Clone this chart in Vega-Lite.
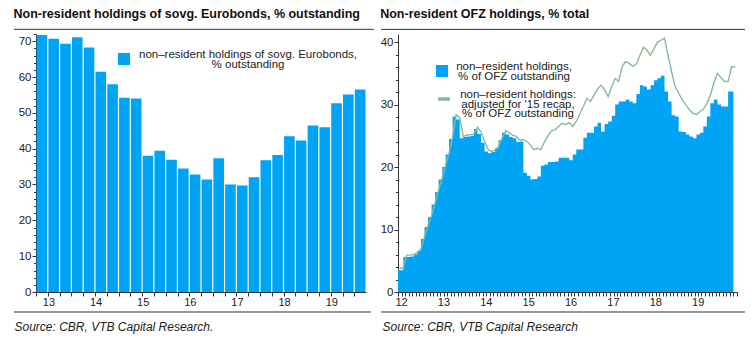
{
  "$schema": "https://vega.github.io/schema/vega-lite/v6.json",
  "background": "white",
  "padding": {"left": 13, "top": 8, "right": 4, "bottom": 4},
  "spacing": 5,
  "datasets": {
    "euro": [
      {"q": "2013Q1", "v": 71.7}, {"q": "2013Q2", "v": 70.7}, {"q": "2013Q3", "v": 69.3}, {"q": "2013Q4", "v": 71.1},
      {"q": "2014Q1", "v": 68.2}, {"q": "2014Q2", "v": 61.5}, {"q": "2014Q3", "v": 58.0}, {"q": "2014Q4", "v": 54.2},
      {"q": "2015Q1", "v": 54.0}, {"q": "2015Q2", "v": 38.0}, {"q": "2015Q3", "v": 39.4}, {"q": "2015Q4", "v": 36.9},
      {"q": "2016Q1", "v": 34.5}, {"q": "2016Q2", "v": 32.8}, {"q": "2016Q3", "v": 31.4}, {"q": "2016Q4", "v": 37.3},
      {"q": "2017Q1", "v": 30.0}, {"q": "2017Q2", "v": 29.7}, {"q": "2017Q3", "v": 32.0}, {"q": "2017Q4", "v": 36.8},
      {"q": "2018Q1", "v": 38.2}, {"q": "2018Q2", "v": 43.5}, {"q": "2018Q3", "v": 42.3}, {"q": "2018Q4", "v": 46.5},
      {"q": "2019Q1", "v": 46.0}, {"q": "2019Q2", "v": 52.7}, {"q": "2019Q3", "v": 55.1}, {"q": "2019Q4", "v": 56.5}
    ],
    "ofz": [
      {"m": "2012-01-01", "nr": 3.5, "adj": 3.8}, {"m": "2012-02-01", "nr": 3.5, "adj": 3.8}, {"m": "2012-03-01", "nr": 5.6, "adj": 5.9},
      {"m": "2012-04-01", "nr": 5.6, "adj": 5.9}, {"m": "2012-05-01", "nr": 5.7, "adj": 6.0}, {"m": "2012-06-01", "nr": 6.0, "adj": 6.3},
      {"m": "2012-07-01", "nr": 6.6, "adj": 6.9}, {"m": "2012-08-01", "nr": 8.5, "adj": 8.8}, {"m": "2012-09-01", "nr": 10.4, "adj": 10.7},
      {"m": "2012-10-01", "nr": 12.0, "adj": 12.3}, {"m": "2012-11-01", "nr": 14.0, "adj": 14.3}, {"m": "2012-12-01", "nr": 16.0, "adj": 16.3},
      {"m": "2013-01-01", "nr": 18.0, "adj": 18.3}, {"m": "2013-02-01", "nr": 20.0, "adj": 20.3}, {"m": "2013-03-01", "nr": 22.0, "adj": 22.3},
      {"m": "2013-04-01", "nr": 24.5, "adj": 24.8}, {"m": "2013-05-01", "nr": 28.1, "adj": 28.4}, {"m": "2013-06-01", "nr": 27.6, "adj": 27.9},
      {"m": "2013-07-01", "nr": 24.6, "adj": 24.9}, {"m": "2013-08-01", "nr": 24.8, "adj": 25.1}, {"m": "2013-09-01", "nr": 24.9, "adj": 25.2},
      {"m": "2013-10-01", "nr": 25.0, "adj": 25.3}, {"m": "2013-11-01", "nr": 26.1, "adj": 26.4}, {"m": "2013-12-01", "nr": 25.3, "adj": 25.6},
      {"m": "2014-01-01", "nr": 23.9, "adj": 24.2}, {"m": "2014-02-01", "nr": 22.5, "adj": 22.8}, {"m": "2014-03-01", "nr": 22.2, "adj": 22.5},
      {"m": "2014-04-01", "nr": 22.4, "adj": 22.7}, {"m": "2014-05-01", "nr": 23.0, "adj": 23.3}, {"m": "2014-06-01", "nr": 24.3, "adj": 24.6},
      {"m": "2014-07-01", "nr": 25.5, "adj": 25.8}, {"m": "2014-08-01", "nr": 25.2, "adj": 25.5}, {"m": "2014-09-01", "nr": 24.8, "adj": 25.1},
      {"m": "2014-10-01", "nr": 24.6, "adj": 24.9}, {"m": "2014-11-01", "nr": 24.0, "adj": 24.3}, {"m": "2014-12-01", "nr": 24.1, "adj": 24.4},
      {"m": "2015-01-01", "nr": 19.1, "adj": 24.1}, {"m": "2015-02-01", "nr": 18.6, "adj": 23.5}, {"m": "2015-03-01", "nr": 18.0, "adj": 22.8},
      {"m": "2015-04-01", "nr": 18.1, "adj": 23.0}, {"m": "2015-05-01", "nr": 18.5, "adj": 22.8}, {"m": "2015-06-01", "nr": 20.2, "adj": 24.0},
      {"m": "2015-07-01", "nr": 20.4, "adj": 25.0}, {"m": "2015-08-01", "nr": 20.8, "adj": 25.8}, {"m": "2015-09-01", "nr": 20.8, "adj": 26.0},
      {"m": "2015-10-01", "nr": 20.9, "adj": 26.5}, {"m": "2015-11-01", "nr": 21.5, "adj": 27.0}, {"m": "2015-12-01", "nr": 21.5, "adj": 26.8},
      {"m": "2016-01-01", "nr": 21.5, "adj": 27.1}, {"m": "2016-02-01", "nr": 21.1, "adj": 26.5}, {"m": "2016-03-01", "nr": 22.0, "adj": 27.3},
      {"m": "2016-04-01", "nr": 22.8, "adj": 28.5}, {"m": "2016-05-01", "nr": 22.8, "adj": 29.7}, {"m": "2016-06-01", "nr": 24.7, "adj": 31.0},
      {"m": "2016-07-01", "nr": 25.5, "adj": 30.5}, {"m": "2016-08-01", "nr": 25.5, "adj": 31.5}, {"m": "2016-09-01", "nr": 26.5, "adj": 32.5},
      {"m": "2016-10-01", "nr": 27.1, "adj": 33.1}, {"m": "2016-11-01", "nr": 25.7, "adj": 32.4}, {"m": "2016-12-01", "nr": 26.9, "adj": 31.3},
      {"m": "2017-01-01", "nr": 27.3, "adj": 32.9}, {"m": "2017-02-01", "nr": 28.2, "adj": 34.2}, {"m": "2017-03-01", "nr": 30.0, "adj": 33.7},
      {"m": "2017-04-01", "nr": 30.5, "adj": 36.1}, {"m": "2017-05-01", "nr": 30.5, "adj": 36.9}, {"m": "2017-06-01", "nr": 30.8, "adj": 36.6},
      {"m": "2017-07-01", "nr": 30.5, "adj": 36.1}, {"m": "2017-08-01", "nr": 30.2, "adj": 36.5}, {"m": "2017-09-01", "nr": 31.7, "adj": 37.9},
      {"m": "2017-10-01", "nr": 33.1, "adj": 39.2}, {"m": "2017-11-01", "nr": 32.9, "adj": 38.7}, {"m": "2017-12-01", "nr": 32.4, "adj": 37.9},
      {"m": "2018-01-01", "nr": 33.1, "adj": 39.0}, {"m": "2018-02-01", "nr": 33.9, "adj": 40.0}, {"m": "2018-03-01", "nr": 34.2, "adj": 40.3},
      {"m": "2018-04-01", "nr": 34.6, "adj": 40.6}, {"m": "2018-05-01", "nr": 32.1, "adj": 37.9}, {"m": "2018-06-01", "nr": 30.5, "adj": 35.3},
      {"m": "2018-07-01", "nr": 28.3, "adj": 32.9}, {"m": "2018-08-01", "nr": 28.1, "adj": 31.8}, {"m": "2018-09-01", "nr": 25.7, "adj": 30.8},
      {"m": "2018-10-01", "nr": 25.6, "adj": 30.0}, {"m": "2018-11-01", "nr": 25.2, "adj": 29.2}, {"m": "2018-12-01", "nr": 24.9, "adj": 28.6},
      {"m": "2019-01-01", "nr": 24.6, "adj": 28.4}, {"m": "2019-02-01", "nr": 25.2, "adj": 28.9}, {"m": "2019-03-01", "nr": 25.5, "adj": 29.2},
      {"m": "2019-04-01", "nr": 26.5, "adj": 30.2}, {"m": "2019-05-01", "nr": 28.1, "adj": 31.5}, {"m": "2019-06-01", "nr": 30.2, "adj": 33.5},
      {"m": "2019-07-01", "nr": 30.8, "adj": 35.0}, {"m": "2019-08-01", "nr": 30.0, "adj": 34.3}, {"m": "2019-09-01", "nr": 29.7, "adj": 33.7},
      {"m": "2019-10-01", "nr": 29.7, "adj": 33.7}, {"m": "2019-11-01", "nr": 32.1, "adj": 36.1}, {"m": "2019-12-01", "nr": 32.1, "adj": 36.0}
    ]
  },
  "hconcat": [
    {
      "width": 330,
      "height": 258,
      "title": {"text": "Non-resident holdings of sovg. Eurobonds, % outstanding", "anchor": "start", "frame": "bounds", "offset": 8},
      "data": {"name": "euro"},
      "layer": [
        {
          "mark": {"type": "bar", "color": "#00A4F4"},
          "encoding": {
            "x": {
              "field": "q", "type": "ordinal",
              "scale": {"paddingInner": 0.1, "paddingOuter": 0.05},
              "axis": {
                "title": "Source: CBR, VTB Capital Research.",
                "bandPosition": 0,
                "labelExpr": "indexof(datum.value,'Q1') > 0 ? substring(datum.value,2,4) : ''",
                "labelAngle": 0, "labelFontSize": 11, "labelPadding": 0, "labelOffset": 7, "tickSize": 4,
                "titleX": -22, "titleY": 38, "titleAlign": "left", "titleBaseline": "alphabetic"
              }
            },
            "y": {
              "field": "v", "type": "quantitative",
              "scale": {"domain": [0, 72], "nice": false},
              "axis": {"title": null, "values": [0, 10, 20, 30, 40, 50, 60, 70], "tickSize": 4, "labelPadding": 1}
            },
            "color": {
              "datum": "non–resident holdings of sovg. Eurobonds,|% outstanding",
              "scale": {"range": ["#00A4F4"]},
              "legend": {
                "orient": "none", "legendX": 82, "legendY": 19, "title": null, "padding": 0,
                "symbolType": "square", "symbolSize": 144, "symbolStrokeWidth": 0,
                "labelExpr": "split(datum.label,'|')", "labelAlign": "center", "labelOffset": 118, "labelBaseline": "line-bottom",
                "encode": {"labels": {"lineHeight": {"value": 10}}}
              }
            }
          }
        },
        {
          "data": {"values": [{}]},
          "mark": {"type": "rule", "color": "#333", "strokeWidth": 1, "clip": false},
          "encoding": {
            "x": {"datum": -0.0667, "type": "quantitative", "scale": {"domain": [0, 1], "nice": false, "zero": false}, "axis": null},
            "x2": {"datum": 1.024},
            "y": {
              "datum": 73.3, "type": "quantitative",
              "scale": {"domain": [0, 72], "nice": false},
              "axis": {"orient": "left", "title": null, "labels": false, "domain": false, "tickSize": 2.5,
                       "values": [0,2,4,6,8,10,12,14,16,18,20,22,24,26,28,30,32,34,36,38,40,42,44,46,48,50,52,54,56,58,60,62,64,66,68,70,72]}
            }
          }
        },
        {
          "data": {"values": [{}]},
          "mark": {"type": "rule", "color": "#333", "strokeWidth": 1, "clip": false},
          "encoding": {
            "x": {"datum": -0.0667, "type": "quantitative", "scale": {"domain": [0, 1], "nice": false, "zero": false}, "axis": null},
            "x2": {"datum": 1.015},
            "y": {"datum": -5.58, "type": "quantitative", "axis": null}
          }
        }
      ],
      "resolve": {"scale": {"x": "independent"}, "axis": {"x": "independent", "y": "independent"}}
    },
    {
      "width": 339,
      "height": 258,
      "title": {"text": "Non-resident OFZ holdings, % total", "anchor": "start", "frame": "bounds", "offset": 8},
      "data": {"name": "ofz"},
      "layer": [
        {
          "layer": [
            {
              "mark": {"type": "area", "interpolate": "step", "color": "#00A4F4"},
              "encoding": {
                "x": {
                  "field": "m", "type": "temporal", "timeUnit": "utcyearmonth", "bandPosition": 0.5,
                  "scale": {"type": "utc", "nice": false,
                            "domain": [{"year": 2012, "month": 1, "date": 1, "utc": true}, {"year": 2020, "month": 1, "date": 1, "utc": true}]},
                  "axis": {
                    "title": "Source: CBR, VTB Capital Research",
                    "tickCount": {"interval": "month", "step": 1},
                    "labelExpr": "utcmonth(datum.value) == 0 && utcyear(datum.value) < 2020 ? utcFormat(datum.value, '%y') : ''",
                    "labelOverlap": false, "labelFlush": false, "labelFontSize": 11, "labelPadding": 0, "labelOffset": 3, "tickSize": 4,
                    "titleX": -16, "titleY": 38, "titleAlign": "left", "titleBaseline": "alphabetic"
                  }
                },
                "y": {
                  "field": "nr", "type": "quantitative",
                  "scale": {"domain": [0, 41.3], "nice": false},
                  "axis": {"title": null, "values": [0, 10, 20, 30, 40], "tickSize": 4, "labelPadding": 1}
                },
                "color": {
                  "datum": "non–resident holdings,|% of OFZ outstanding",
                  "scale": {"range": ["#00A4F4"]},
                  "legend": {
                    "orient": "none", "legendX": 38, "legendY": 31, "title": null, "padding": 0,
                    "symbolType": "square", "symbolSize": 144, "symbolStrokeWidth": 0,
                    "labelExpr": "split(datum.label,'|')", "labelAlign": "center", "labelOffset": 66, "labelBaseline": "line-bottom"
                  }
                }
              }
            },
            {
              "mark": {"type": "line", "strokeWidth": 1.4, "clip": false},
              "encoding": {
                "x": {"field": "m", "type": "temporal", "timeUnit": "utcyearmonth", "bandPosition": 0.5},
                "y": {"field": "adj", "type": "quantitative"},
                "stroke": {
                  "datum": "non–resident holdings:|adjusted for '15 recap,|% of OFZ outstanding",
                  "scale": {"range": ["#84BC98"]},
                  "legend": {
                    "orient": "none", "legendX": 38, "legendY": 57, "title": null, "padding": 0,
                    "symbolType": "stroke", "symbolSize": 144, "symbolStrokeWidth": 3.5,
                    "labelExpr": "split(datum.label,'|')", "labelAlign": "center", "labelOffset": 66, "labelBaseline": "line-bottom"
                  }
                }
              }
            }
          ]
        },
        {
          "data": {"values": [{}]},
          "mark": {"type": "rule", "color": "#333", "strokeWidth": 1, "clip": false},
          "encoding": {
            "x": {"datum": -0.05, "type": "quantitative", "scale": {"domain": [0, 1], "nice": false, "zero": false}, "axis": null},
            "x2": {"datum": 1.0236},
            "y": {
              "datum": 42.04, "type": "quantitative",
              "axis": {"orient": "left", "title": null, "labels": false, "domain": false, "tickSize": 2.5,
                       "values": [0,2,4,6,8,10,12,14,16,18,20,22,24,26,28,30,32,34,36,38,40]}
            }
          }
        },
        {
          "data": {"values": [{}]},
          "mark": {"type": "rule", "color": "#333", "strokeWidth": 1, "clip": false},
          "encoding": {
            "x": {"datum": -0.05, "type": "quantitative", "scale": {"domain": [0, 1], "nice": false, "zero": false}, "axis": null},
            "x2": {"datum": 1.0236},
            "y": {"datum": -3.2, "type": "quantitative", "axis": null}
          }
        }
      ],
      "resolve": {"scale": {"x": "independent"}, "axis": {"x": "independent", "y": "independent"}}
    }
  ],
  "resolve": {"scale": {"color": "independent", "stroke": "independent", "y": "independent"}, "legend": {"color": "independent", "stroke": "independent"}},
  "config": {
    "font": "Liberation Sans",
    "view": {"stroke": null},
    "title": {"font": "Liberation Sans", "fontSize": 12.5, "fontWeight": "bold", "color": "#111"},
    "axis": {
      "labelFont": "Liberation Sans", "labelFontSize": 11.5, "labelColor": "#222",
      "domainColor": "#333", "tickColor": "#333", "grid": false,
      "titleFont": "Liberation Sans", "titleFontSize": 12, "titleFontStyle": "italic", "titleFontWeight": "normal", "titleColor": "#222"
    },
    "legend": {"labelFont": "Liberation Sans", "labelFontSize": 11.5, "labelColor": "#222", "labelLimit": 400},
    "style": {"guide-label": {"lineHeight": 9.5}}
  }
}
